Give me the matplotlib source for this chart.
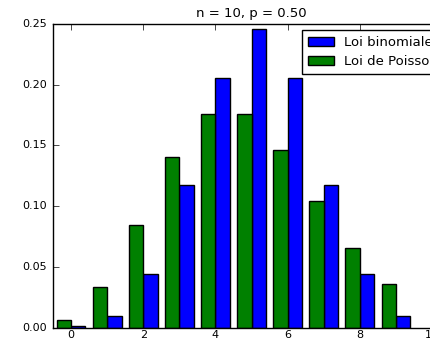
import matplotlib
matplotlib.use('Agg')
from matplotlib import pyplot as plt
import numpy as np

# Binomial (n = 10, p = 0.5) vs Poisson (lambda = 5) probabilities, k = 0..9
k = [0, 1, 2, 3, 4, 5, 6, 7, 8, 9]
binomiale = [0.001, 0.0098, 0.0439, 0.1172, 0.2051, 0.2461, 0.2051, 0.1172, 0.0439, 0.0098]
poisson = [0.0067, 0.0337, 0.0842, 0.1404, 0.1755, 0.1755, 0.1462, 0.1044, 0.0653, 0.0363]
titre = 'n = 10, p = 0.50'

plt.style.use('classic')
plt.rcParams['font.size'] = 9

fig = plt.figure(figsize=(4.3, 3.41), dpi=100)
ax = fig.add_axes([0.123, 0.039, 0.924, 0.891])

x = np.array(k)
width = 0.4
ax.bar(x, binomiale, width, align='edge', color='b', edgecolor='k', label='Loi binomiale')
ax.bar(x - width, poisson, width, align='edge', color='g', edgecolor='k', label='Loi de Poisson')

ax.set_xlim(-0.5, 10.5)
ax.set_ylim(0, 0.25)
ax.set_xticks([0, 2, 4, 6, 8, 10])
ax.set_yticks([0, 0.05, 0.10, 0.15, 0.20, 0.25])
ax.yaxis.set_major_formatter(matplotlib.ticker.FormatStrFormatter('%.2f'))
ax.tick_params(labelsize=8)
ax.tick_params(axis='x', pad=2)
ax.set_title(titre, fontsize=9.5)
ax.legend(loc='upper right', fontsize=9.5)

fig.savefig('out.png', dpi=100, facecolor='white')
